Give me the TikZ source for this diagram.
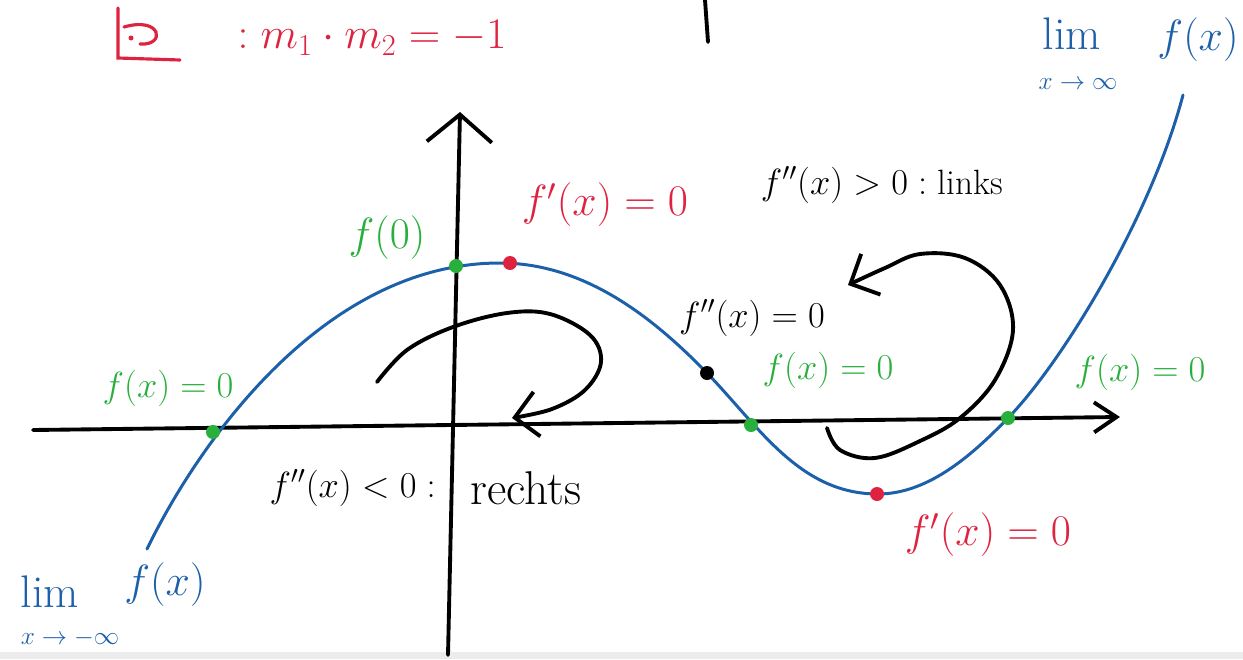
\documentclass[tikz,border=0pt]{standalone}
\usepackage{xcolor}
\usepackage{tikz}
\usetikzlibrary{arrows.meta,positioning,calc}
\definecolor{kurve}{RGB}{28,96,170}
\definecolor{nullgr}{RGB}{40,175,60}
\definecolor{extrot}{RGB}{222,35,65}

\begin{document}
\begin{tikzpicture}[x=0.02cm,y=-0.02cm,font=\fontsize{20}{24}\selectfont,
  pkt/.style={circle,fill,inner sep=0pt,minimum size=0.28cm},
  achse/.style={line width=2.2pt,line cap=round},
  schleife/.style={line width=2.2pt,line cap=round,-{Straight Barb[length=0.45cm,width=0.9cm]}},
  limop/.style={kurve,inner sep=0pt,font=\fontsize{26}{30}\selectfont},
  limsub/.style={kurve,inner sep=0pt,font=\fontsize{14}{16}\selectfont}]
\useasboundingbox (0,0) rectangle (1243,659);
\fill[gray!15] (0,652) rectangle (1243,659);
\draw[achse] (705,0) -- (708,42);
\draw[achse,-{Straight Barb[length=0.55cm,width=1.3cm]}] (448,655) -- (460,112);
\draw[achse,-{Straight Barb[length=0.45cm,width=0.6cm]}] (33,430) -- (1120,417);
\draw[kurve,line width=1.7pt,line cap=round] (147,549)
  .. controls (195,450) and (320,263) .. (500,263)
  .. controls (590,263) and (660,325) .. (707,373)
  .. controls (760,428) and (800,494) .. (878,494)
  .. controls (930,494) and (975,452) .. (1008,418)
  .. controls (1060,365) and (1150,220) .. (1183,95);
\draw[schleife] plot[smooth,tension=0.6] coordinates {
  (377,382) (407,350) (453,327) (507,313) (550,314) (590,335) (601,362) (585,390)
  (552,409) (512,418)};
\draw[schleife] plot[smooth,tension=0.6] coordinates {
  (827,428) (840,450) (875,458) (920,441) (960,418) (995,380) (1013,330) (1000,285)
  (965,258) (920,254) (885,268) (848,285)};
\node[pkt,nullgr] (n1) at (213,432) {};
\node[pkt,nullgr] (y0) at (456,266) {};
\node[pkt,extrot] (hp) at (510,263) {};
\node[pkt,black] (wp) at (707,373) {};
\node[pkt,nullgr] (n2) at (751,425) {};
\node[pkt,extrot] (tp) at (877,494) {};
\node[pkt,nullgr] (n3) at (1008,418) {};
\node[nullgr] (zeroL) at (168,388) {$f(x)=0$};
\node[nullgr,font=\fontsize{24}{28}\selectfont] (fnull) at (387,238) {$f(0)$};
\node[extrot,font=\fontsize{24}{28}\selectfont] (extmax) at (605,205) {$f'(x)=0$};
\node (links) at (882,185) {$f''(x)>0:$ links};
\node (wende) at (752,318) {$f''(x)=0$};
\node[nullgr] (zeroM) at (828,370) {$f(x)=0$};
\node[nullgr] (zeroR) at (1140,372) {$f(x)=0$};
\node[extrot,font=\fontsize{26}{30}\selectfont] (extmin) at (988,535) {$f'(x)=0$};
\node[anchor=east,font=\fontsize{22}{26}\selectfont] (rechts) at (442,488) {$f''(x)<0:$};
\node[right=0.45cm of rechts,font=\fontsize{27}{30}\selectfont] (rechtswort) {rechts};
\node[limop] (limL) at (50,592) {lim};
\node[limsub] (limLsub) at (70,638) {$x\to-\infty$};
\node[kurve,font=\fontsize{32}{36}\selectfont] (limLf) at (165,585) {$f(x)$};
\node[limop] (limR) at (1072,34) {lim};
\node[limsub] (limRsub) at (1078,84) {$x\to\infty$};
\node[kurve,font=\fontsize{30}{34}\selectfont] (limRf) at (1198,40) {$f(x)$};
\draw[extrot,line width=1.8pt,line cap=round] (118,8) -- (118,58) -- (180,60);
\draw[extrot,line width=1.8pt,line cap=round] (124,27) .. controls (162,16) and (166,46) .. (140,44);
\node[pkt,extrot,minimum size=0.1cm] (rw) at (131,38) {};
\node[extrot,font=\fontsize{26}{30}\selectfont] (senk) at (372,38) {$:m_1\cdot m_2=-1$};
\end{tikzpicture}
\end{document}
